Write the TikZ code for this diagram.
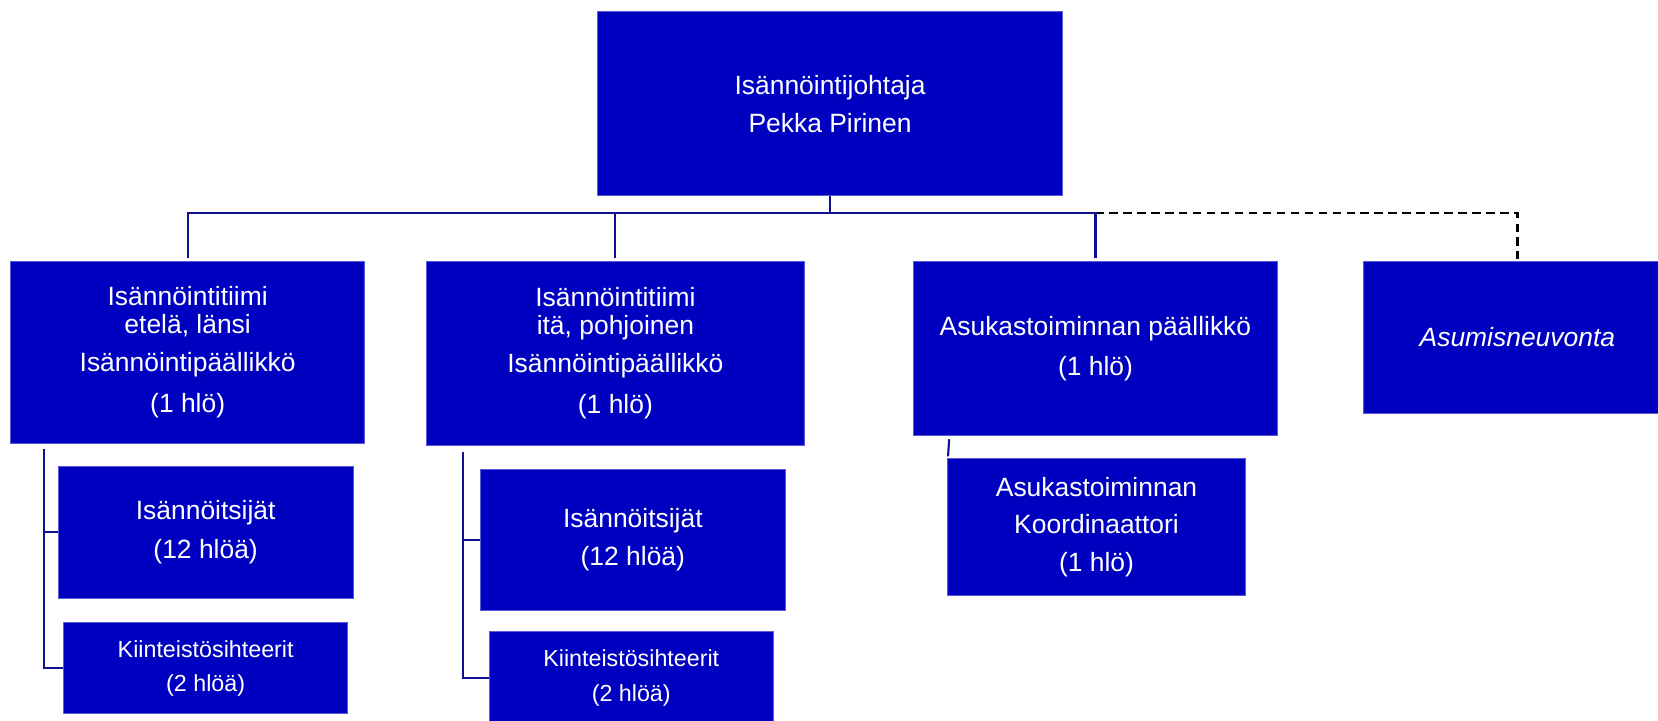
\documentclass[tikz,border=0pt]{standalone}
\usepackage{fontspec}
\setmainfont{Liberation Sans}
\definecolor{orgblue}{RGB}{0, 0, 192}
\definecolor{orgedge}{RGB}{90, 90, 215}
\definecolor{orgline}{RGB}{15, 15, 145}
\usetikzlibrary{positioning, calc}

\begin{document}
\begin{tikzpicture}[x=0.5pt, y=-0.5pt,
  unit/.style={fill=orgblue, draw=orgedge, line width=0.4pt, text=white, align=center, inner sep=0pt, font=\fontsize{12.5}{13.5}\selectfont},
  smallunit/.style={unit, font=\fontsize{11}{12}\selectfont},
  link/.style={draw=orgline, line width=1pt},
  dotlink/.style={draw=black, line width=1.2pt, dash pattern=on 4pt off 2.6pt}]
  \useasboundingbox (0,0) rectangle (1568,681);

  \node[unit, minimum width=220pt, minimum height=87pt] (head) at (785,98) {Isännöintijohtaja\\[4.5pt] Pekka Pirinen};

  \node[unit, minimum width=167.5pt, minimum height=86pt] (teamsw) at (177.5,333) {Isännöintitiimi\\ etelä, länsi\\[4.5pt] Isännöintipäällikkö\\[6pt] (1 hlö)};
  \node[unit, minimum width=179pt, minimum height=87pt] (teamne) at (582,334) {Isännöintitiimi\\ itä, pohjoinen\\[4.5pt] Isännöintipäällikkö\\[6pt] (1 hlö)};
  \node[unit, minimum width=172pt, minimum height=82.5pt] (resident) at (1036,329.5) {Asukastoiminnan päällikkö\\[5.5pt] (1 hlö)};
  \node[unit, minimum width=146pt, minimum height=72pt] (advice) at (1435,319) {\itshape Asumisneuvonta};

  \node[unit, minimum width=139.5pt, minimum height=62.5pt] (mgrsw) at (194.5,503.5) {Isännöitsijät\\[5pt] (12 hlöä)};
  \node[smallunit, minimum width=134.5pt, minimum height=43pt] (secsw) at (194.5,632) {Kiinteistösihteerit\\[4pt] (2 hlöä)};
  \node[unit, minimum width=144.5pt, minimum height=66.5pt] (mgrne) at (598.5,510.5) {Isännöitsijät\\[4.5pt] (12 hlöä)};
  \node[smallunit, minimum width=134pt, minimum height=44.5pt] (secne) at (597,641.5) {Kiinteistösihteerit\\[4.5pt] (2 hlöä)};
  \node[unit, minimum width=141pt, minimum height=64.5pt] (coord) at (1037,498.5) {Asukastoiminnan\\[4pt] Koordinaattori\\[4.5pt] (1 hlö)};

  \coordinate (bus) at ($(head.south)+(0,16)$);
  \draw[dotlink] (bus) -| ($(advice.north)+(0,-2)$);
  \draw[link] (head.south) -- (bus);
  \draw[link] (bus) -| ($(teamsw.north)+(0,-3)$);
  \draw[link] (bus) -| ($(teamne.north)+(0,-3)$);
  \draw[link] (bus) -| ($(resident.north)+(0,-3)$);

  \coordinate (stemsw) at ($(teamsw.south west)+(32,5)$);
  \draw[link] (stemsw) |- (secsw.west);
  \draw[link] (stemsw |- mgrsw.west) -- (mgrsw.west);

  \coordinate (stemne) at ($(teamne.south west)+(35,6)$);
  \draw[link] (stemne) |- (secne.west);
  \draw[link] (stemne |- mgrne.west) -- (mgrne.west);

  \draw[link] ($(resident.south west)+(34,3)$) -- ($(coord.north west)+(1,-2)$);
\end{tikzpicture}
\end{document}
